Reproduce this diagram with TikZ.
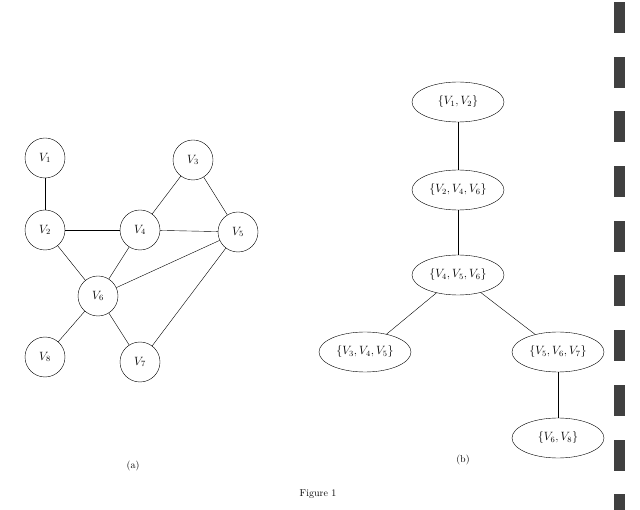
\documentclass[tikz,border=0pt]{standalone}
\usepackage{amsmath}
\usetikzlibrary{shapes.geometric}
\begin{document}
\begin{tikzpicture}[x=1pt,y=-1pt,
	vert/.style={draw,circle,minimum size=40pt,inner sep=0pt,font=\large},
	clq/.style={draw,ellipse,minimum width=92pt,minimum height=40pt,inner sep=0pt,font=\large},
	bar/.style={fill=black!75}]
	\useasboundingbox (0,0) rectangle (640,510);
	% graph (a)
	\node (v1) [vert] at (45,158) {$V_1$};
	\node (v2) [vert] at (45,230) {$V_2$};
	\node (v3) [vert] at (193,160) {$V_3$};
	\node (v4) [vert] at (140,230) {$V_4$};
	\node (v5) [vert] at (238,232) {$V_5$};
	\node (v6) [vert] at (98,296) {$V_6$};
	\node (v8) [vert] at (45,357) {$V_8$};
	\node (v7) [vert] at (140,362) {$V_7$};
	\draw (v1) -- (v2);
	\draw (v2) -- (v4);
	\draw (v2) -- (v6);
	\draw (v4) -- (v3);
	\draw (v4) -- (v5);
	\draw (v3) -- (v5);
	\draw (v4) -- (v6);
	\draw (v6) -- (v5);
	\draw (v5) -- (v7);
	\draw (v6) -- (v7);
	\draw (v6) -- (v8);
	% tree (b)
	\node (c12) [clq] at (458,102) {$\{V_1,V_2\}$};
	\node (c246) [clq] at (458,190) {$\{V_2,V_4,V_6\}$};
	\node (c456) [clq] at (458,275) {$\{V_4,V_5,V_6\}$};
	\node (c345) [clq] at (365,352) {$\{V_3,V_4,V_5\}$};
	\node (c567) [clq] at (558,352) {$\{V_5,V_6,V_7\}$};
	\node (c68) [clq] at (558,438) {$\{V_6,V_8\}$};
	\draw (c12) -- (c246);
	\draw (c246) -- (c456);
	\draw (c456) -- (c345);
	\draw (c456) -- (c567);
	\draw (c567) -- (c68);
	% captions
	\node (capa) at (133,466) {(a)};
	\node (capb) at (463,460) {(b)};
	\node (fig) at (318,494) {Figure 1};
	% margin marks
	\foreach \y in {0,54.7,...,500}
		\fill[bar] (614,\y+2) rectangle (625,\y+33);
\end{tikzpicture}
\end{document}
